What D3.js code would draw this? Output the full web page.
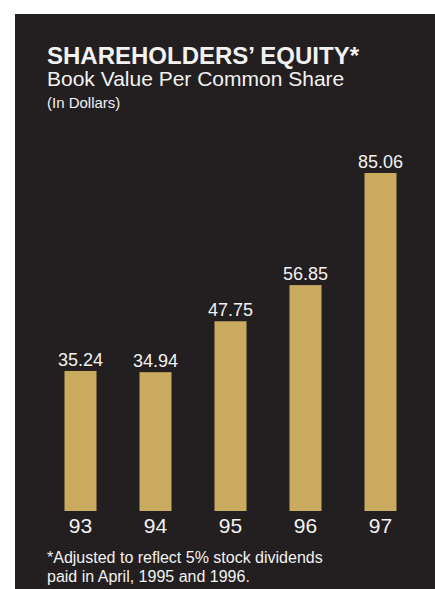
<!DOCTYPE html>
<html>
<head>
<meta charset="utf-8">
<script src="https://cdn.jsdelivr.net/npm/d3@7"></script>
<style>
  html, body { margin: 0; padding: 0; background: #ffffff; }
  svg { display: block; font-family: "Liberation Sans", Arial, Helvetica, sans-serif; }
</style>
</head>
<body>
<svg id="chart" width="435" height="589"></svg>
<script>
// Book value per common share, fiscal years 1993-1997
const years = ["93", "94", "95", "96", "97"];
const bookValues = [35.24, 34.94, 47.75, 56.85, 85.06];
const titleLines = ["SHAREHOLDERS\u2019 EQUITY*", "Book Value Per Common Share", "(In Dollars)"];
const footnoteLines = ["*Adjusted to reflect 5% stock dividends", "paid in April, 1995 and 1996."];

const svg = d3.select("#chart");
const W = 435, H = 589;

// dark panel
svg.append("rect").attr("x", 15).attr("y", 14).attr("width", W - 15).attr("height", H - 14)
  .attr("fill", "#231f20");

const textColor = "#f2f2f2";
const barColor = "#c9aa5e";

// headings
svg.append("text").attr("x", 47).attr("y", 64)
  .attr("fill", textColor).attr("font-weight", "bold").attr("font-size", 24)
  .text(titleLines[0]);
svg.append("text").attr("x", 47).attr("y", 86)
  .attr("fill", textColor).attr("font-size", 21)
  .text(titleLines[1]);
svg.append("text").attr("x", 47).attr("y", 108)
  .attr("fill", textColor).attr("font-size", 15)
  .text(titleLines[2]);

// scales
const baseline = 511;
const x = d3.scaleBand().domain(years).range([43, 418]).paddingInner(0.573).paddingOuter(0.2865);
const y = d3.scaleLinear().domain([0, 85.06]).range([baseline, 173]);

const g = svg.append("g");
g.selectAll("rect.bar").data(years).join("rect")
  .attr("class", "bar")
  .attr("x", d => x(d))
  .attr("width", x.bandwidth())
  .attr("y", (d, i) => y(bookValues[i]))
  .attr("height", (d, i) => baseline - y(bookValues[i]))
  .attr("fill", barColor);

// value labels above bars
g.selectAll("text.val").data(years).join("text")
  .attr("class", "val")
  .attr("x", d => x(d) + x.bandwidth() / 2)
  .attr("y", (d, i) => y(bookValues[i]) - 5)
  .attr("text-anchor", "middle")
  .attr("fill", textColor).attr("font-size", 18)
  .text((d, i) => bookValues[i].toFixed(2));

// year axis labels
const axis = d3.axisBottom(x).tickSize(0).tickPadding(0);
const ax = svg.append("g").attr("transform", `translate(0,${baseline})`).call(axis);
ax.select(".domain").remove();
ax.selectAll("text")
  .attr("fill", textColor).attr("font-size", 21)
  .attr("dy", null).attr("y", 22)
  .style("font-family", "'Liberation Sans', Arial, sans-serif");

// footnote
footnoteLines.forEach((line, i) => {
  svg.append("text").attr("x", 47).attr("y", 563 + i * 19)
    .attr("fill", textColor).attr("font-size", 16)
    .text(line);
});
</script>
</body>
</html>
